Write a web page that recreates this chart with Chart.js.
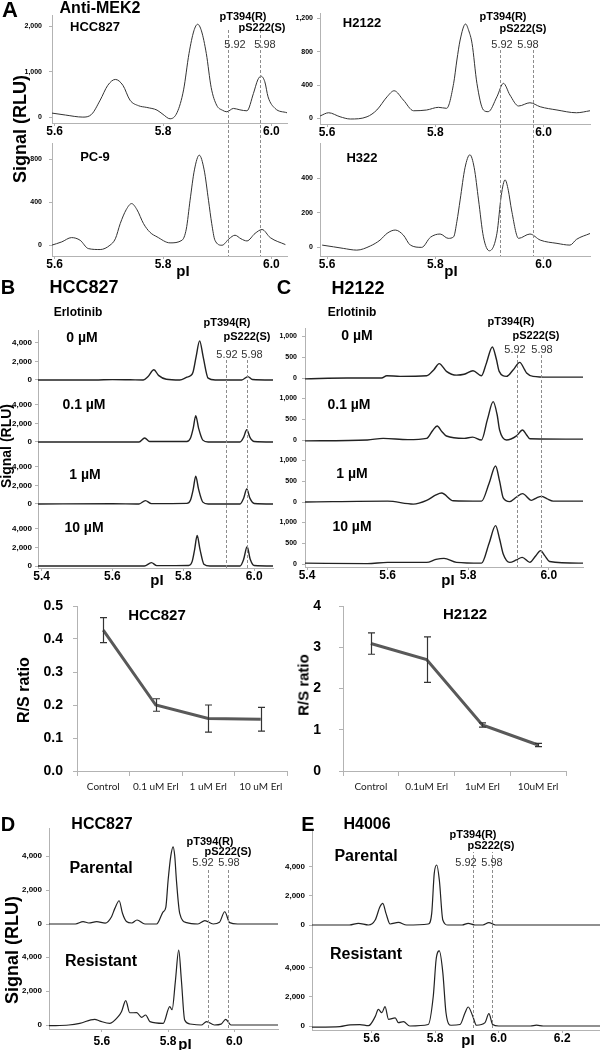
<!DOCTYPE html>
<html>
<head>
<meta charset="utf-8">
<script src="https://cdn.jsdelivr.net/npm/chart.js@4.4.1/dist/chart.umd.min.js"></script>
<style>
  html, body { margin: 0; padding: 0; background: #fff; }
  #fig { position: relative; width: 600px; height: 1050px; overflow: hidden; background: #fff;
         font-family: 'Liberation Sans', Arial, sans-serif; }
  #fig canvas { position: absolute; }
  .t { position: absolute; transform: translate(-50%, -50%); white-space: nowrap; line-height: 1; color: #000; }
</style>
</head>
<body>
<div id="fig"></div>
<script>
// ---- data: [pI, signal (RLU)] ----
const aHcc827 = [[5.595,88],[5.62,45],[5.652,0],[5.668,60],[5.684,374],[5.698,700],[5.712,830],[5.726,700],[5.739,374],[5.755,250],[5.770,213],[5.789,154],[5.800,60],[5.813,-37],[5.826,100],[5.838,600],[5.848,1400],[5.857,1900],[5.864,2046],[5.871,1900],[5.880,1400],[5.889,650],[5.899,264],[5.910,150],[5.918,117],[5.930,191],[5.942,160],[5.955,139],[5.967,521],[5.975,820],[5.981,902],[5.988,780],[5.994,447],[6.007,191],[6.029,95]];
const aPc9 = [[5.594,0],[5.613,31],[5.631,71],[5.647,46],[5.662,-31],[5.684,-40],[5.702,0],[5.712,60],[5.721,201],[5.732,330],[5.742,387],[5.752,330],[5.764,201],[5.776,120],[5.789,78],[5.813,22],[5.835,46],[5.843,150],[5.850,418],[5.858,700],[5.867,837],[5.876,700],[5.884,418],[5.890,200],[5.896,46],[5.909,0],[5.922,60],[5.933,93],[5.944,60],[5.955,40],[5.970,110],[5.983,146],[5.998,71],[6.026,6]];
const aH2122 = [[5.587,28],[5.603,67],[5.624,19],[5.643,-8],[5.674,19],[5.692,100],[5.711,259],[5.724,331],[5.741,220],[5.760,91],[5.784,100],[5.806,132],[5.821,120],[5.834,420],[5.840,700],[5.846,940],[5.856,1132],[5.862,1050],[5.868,900],[5.877,420],[5.889,100],[5.898,80],[5.914,259],[5.926,420],[5.938,280],[5.954,148],[5.975,187],[5.994,139],[6.025,100],[6.061,67],[6.086,91]];
const aH322 = [[5.591,13],[5.612,3],[5.630,-6],[5.655,-16],[5.680,8],[5.698,42],[5.711,81],[5.726,100],[5.741,71],[5.754,13],[5.775,0],[5.791,58],[5.809,77],[5.824,52],[5.834,61],[5.840,150],[5.846,274],[5.855,460],[5.864,535],[5.872,460],[5.880,274],[5.889,61],[5.900,-20],[5.914,81],[5.922,300],[5.929,390],[5.935,330],[5.941,216],[5.954,52],[5.975,77],[5.994,42],[6.025,23],[6.049,13],[6.061,46],[6.086,80]];

const b0uM = [[5.390,0],[5.55,0],[5.60,40],[5.65,20],[5.687,0],[5.700,350],[5.717,1100],[5.730,500],[5.752,80],[5.790,0],[5.810,300],[5.820,450],[5.827,800],[5.836,2500],[5.846,4225],[5.856,2500],[5.870,200],[5.890,0],[5.965,0],[5.982,360],[5.995,50],[6.053,0]];
const b01uM = [[5.390,0],[5.675,0],[5.691,430],[5.705,50],[5.810,50],[5.820,400],[5.828,1500],[5.835,2850],[5.843,1500],[5.855,200],[5.870,0],[5.960,0],[5.970,500],[5.979,1320],[5.988,500],[6.000,50],[6.053,0]];
const b1uM = [[5.390,0],[5.60,30],[5.675,0],[5.693,360],[5.710,40],[5.810,60],[5.820,400],[5.828,1600],[5.835,3010],[5.843,1600],[5.855,200],[5.870,0],[5.960,0],[5.970,600],[5.979,1610],[5.988,600],[6.000,50],[6.053,0]];
const b10uM = [[5.390,0],[5.690,0],[5.710,360],[5.725,40],[5.815,60],[5.825,500],[5.832,1800],[5.839,3300],[5.847,1800],[5.858,200],[5.875,0],[5.960,0],[5.970,700],[5.980,2080],[5.989,700],[6.000,50],[6.053,0]];

const c0uM = [[5.395,-20],[5.50,0],[5.585,0],[5.598,55],[5.631,40],[5.697,55],[5.715,200],[5.728,345],[5.746,160],[5.771,70],[5.790,90],[5.812,175],[5.833,55],[5.845,350],[5.860,745],[5.870,450],[5.877,160],[5.895,40],[5.912,200],[5.928,375],[5.940,200],[5.945,120],[5.961,40],[6.000,20],[6.085,20]];
const c01uM = [[5.395,-20],[5.55,0],[5.589,40],[5.65,10],[5.697,40],[5.712,230],[5.723,335],[5.735,200],[5.746,96],[5.790,40],[5.811,70],[5.833,0],[5.848,500],[5.862,920],[5.872,600],[5.878,240],[5.895,0],[5.920,100],[5.935,240],[5.945,120],[5.953,30],[6.085,20]];
const c1uM = [[5.395,0],[5.60,20],[5.664,-50],[5.697,40],[5.720,170],[5.734,215],[5.763,30],[5.833,20],[5.852,450],[5.868,865],[5.878,500],[5.887,100],[5.903,10],[5.920,120],[5.935,200],[5.957,40],[5.970,100],[5.982,135],[5.995,80],[6.011,20],[6.085,20]];
const c10uM = [[5.395,20],[5.55,10],[5.600,40],[5.697,40],[5.720,110],[5.740,135],[5.771,40],[5.833,20],[5.852,500],[5.868,920],[5.878,600],[5.887,240],[5.903,40],[5.920,100],[5.934,160],[5.953,40],[5.968,200],[5.980,320],[5.990,200],[6.002,60],[6.085,20]];

const dParental = [[5.440,0],[5.52,0],[5.543,140],[5.560,60],[5.584,140],[5.610,50],[5.629,430],[5.639,920],[5.652,1370],[5.662,630],[5.674,150],[5.690,60],[5.706,235],[5.730,0],[5.765,0],[5.785,720],[5.793,980],[5.800,2590],[5.808,4000],[5.815,4545],[5.820,4000],[5.825,2590],[5.835,630],[5.856,80],[5.890,0],[5.911,200],[5.936,0],[5.955,100],[5.971,720],[5.986,80],[6.010,0],[6.132,0]];
const dResistant = [[5.440,-40],[5.50,0],[5.533,100],[5.578,335],[5.594,230],[5.624,100],[5.649,490],[5.659,780],[5.672,1430],[5.684,720],[5.705,725],[5.720,450],[5.732,590],[5.745,200],[5.785,100],[5.805,1080],[5.812,900],[5.822,2600],[5.832,4410],[5.840,2650],[5.850,290],[5.866,60],[5.900,0],[5.916,200],[5.940,0],[5.960,50],[5.974,335],[5.990,0],[6.132,0]];

const eParental = [[5.412,0],[5.530,0],[5.558,115],[5.590,0],[5.611,340],[5.626,1250],[5.635,1485],[5.645,800],[5.658,70],[5.684,180],[5.710,0],[5.778,70],[5.789,800],[5.797,3540],[5.805,4110],[5.813,3080],[5.824,340],[5.840,0],[5.885,0],[5.904,115],[5.925,0],[5.950,0],[5.969,160],[5.990,0],[6.319,0]];
const eResistant = [[5.412,-80],[5.500,-40],[5.532,80],[5.563,100],[5.590,20],[5.611,640],[5.621,1140],[5.632,910],[5.642,1330],[5.653,460],[5.674,550],[5.684,230],[5.700,300],[5.720,0],[5.778,100],[5.794,2055],[5.803,4570],[5.813,5140],[5.824,3660],[5.834,910],[5.850,50],[5.878,100],[5.894,910],[5.904,1300],[5.918,690],[5.930,50],[5.957,230],[5.969,850],[5.981,100],[6.000,0],[6.100,0],[6.119,60],[6.140,0],[6.319,0]];

// R/S ratio panels
const ratioLabelsHcc = ['Control', '0.1 uM Erl', '1 uM Erl', '10 uM Erl'];
const ratioHcc = [0.427, 0.200, 0.159, 0.157];
const ratioErrHcc = [0.038, 0.019, 0.041, 0.036];
const ratioLabelsH2122 = ['Control', '0.1uM Erl', '1uM Erl', '10uM Erl'];
const ratioH2122 = [3.09, 2.70, 1.115, 0.63];
const ratioErrH2122 = [0.26, 0.55, 0.05, 0.04];

// tick values
const markerPI = [5.92, 5.98];
const pITicksA = [5.6, 5.8, 6.0];
const pITicksBC = [5.4, 5.6, 5.8, 6.0];
const pITicksE = [5.6, 5.8, 6.0, 6.2];
const yTicksHcc827A = [0, 1000, 2000];
const yTicksPc9 = [0, 400, 800];
const yTicksH2122A = [0, 400, 800, 1200];
const yTicksH322 = [0, 200, 400];
const yTicks4k = [0, 2000, 4000];
const yTicks1k = [0, 500, 1000];
const ratioTicksHcc = [0, 0.1, 0.2, 0.3, 0.4, 0.5];
const ratioTicksH2122 = [0, 1, 2, 3, 4];

const AXIS = '#b3b3b3';
const FONT = "'Liberation Sans', Arial, sans-serif";
const fig = document.getElementById('fig');

function addCanvas(left, top, w, h) {
  const cv = document.createElement('canvas');
  cv.width = w; cv.height = h;
  cv.style.left = left + 'px'; cv.style.top = top + 'px';
  cv.style.width = w + 'px'; cv.style.height = h + 'px';
  fig.appendChild(cv);
  return cv;
}

// dashed pI markers, y0/y1 in page coordinates
function dashed(xs, top, y0, y1) {
  return {
    id: 'dashed',
    afterDatasetsDraw(chart) {
      const ctx = chart.ctx;
      const sx = chart.scales.x;
      ctx.save();
      ctx.strokeStyle = '#8c8c8c';
      ctx.lineWidth = 1;
      ctx.setLineDash([3, 2]);
      ctx.lineDashOffset = y0 % 5;
      xs.forEach(v => {
        const px = Math.round(sx.getPixelForValue(v)) + 0.5;
        ctx.beginPath();
        ctx.moveTo(px, y0 - top);
        ctx.lineTo(px, y1 - top);
        ctx.stroke();
      });
      ctx.restore();
    }
  };
}

function trace(o) {
  const padT = 10, padR = 6, xh = o.xt ? o.xh : 0;
  const left = o.x - o.yw, top = o.y - padT;
  const cv = addCanvas(left, top, o.w + o.yw + padR, o.h + padT + xh);
  const plugins = [];
  if (o.marks) {
    const a = Math.max(o.marks[0], o.y), b = Math.min(o.marks[1], o.y + o.h + xh);
    if (a < b) plugins.push(dashed(markerPI, top, a, b));
  }
  new Chart(cv, {
    type: 'line',
    data: {
      datasets: [{
        data: o.data.map(([x, y]) => ({ x, y })),
        borderColor: o.color || '#222',
        borderWidth: o.lw || 1,
        pointRadius: 0,
        cubicInterpolationMode: 'monotone',
        fill: false
      }]
    },
    options: {
      responsive: false,
      animation: false,
      events: [],
      layout: { padding: { top: padT, right: padR, left: 0, bottom: 0 } },
      plugins: { legend: { display: false }, tooltip: { enabled: false } },
      scales: {
        x: {
          type: 'linear', min: o.xmin, max: o.xmax,
          display: !!o.xt,
          afterBuildTicks: s => { if (o.xt) s.ticks = o.xt.map(v => ({ value: v })); },
          afterFit: s => { s.height = xh; s.paddingLeft = 0; s.paddingRight = 0; },
          grid: { drawOnChartArea: false, tickLength: 3, color: AXIS },
          border: { color: AXIS },
          ticks: {
            color: '#000', padding: o.xpad || 0, maxRotation: 0, autoSkip: false,
            font: { family: FONT, size: 12, weight: 'bold', lineHeight: 1 },
            callback: v => Number(v).toFixed(1)
          }
        },
        y: {
          min: o.ymin, max: o.ymax,
          afterBuildTicks: s => { s.ticks = o.yt.map(v => ({ value: v })); },
          afterFit: s => { s.width = o.yw; s.paddingTop = 0; s.paddingBottom = 0; },
          grid: { drawOnChartArea: false, tickLength: 3, color: AXIS },
          border: { color: AXIS },
          ticks: {
            color: '#000', padding: o.ypad, autoSkip: false,
            font: { family: FONT, size: o.fs, weight: 'bold', lineHeight: 1 },
            callback: v => Number(v).toLocaleString('en-US')
          }
        }
      }
    },
    plugins
  });
}

function errorBars(errs) {
  return {
    id: 'errorBars',
    afterDatasetsDraw(chart) {
      const ctx = chart.ctx, ys = chart.scales.y;
      const vals = chart.data.datasets[0].data;
      ctx.save();
      ctx.strokeStyle = '#333';
      ctx.lineWidth = 1.2;
      chart.getDatasetMeta(0).data.forEach((pt, i) => {
        const x = Math.round(pt.x) + 0.5;
        const t = ys.getPixelForValue(vals[i] + errs[i]);
        const b = ys.getPixelForValue(vals[i] - errs[i]);
        ctx.beginPath();
        ctx.moveTo(x, t); ctx.lineTo(x, b);
        ctx.moveTo(x - 3.5, t); ctx.lineTo(x + 3.5, t);
        ctx.moveTo(x - 3.5, b); ctx.lineTo(x + 3.5, b);
        ctx.stroke();
      });
      ctx.restore();
    }
  };
}

function ratio(o) {
  const padT = 10, padR = 14, xh = 26;
  const cv = addCanvas(o.x - o.yw, o.y - padT, o.w + o.yw + padR, o.h + padT + xh);
  new Chart(cv, {
    type: 'line',
    data: {
      labels: o.labels,
      datasets: [{ data: o.values, borderColor: '#595959', borderWidth: 3, pointRadius: 0, tension: 0 }]
    },
    options: {
      responsive: false,
      animation: false,
      events: [],
      layout: { padding: { top: padT, right: padR, left: 0, bottom: 0 } },
      plugins: { legend: { display: false }, tooltip: { enabled: false } },
      scales: {
        x: {
          type: 'category', offset: true,
          afterFit: s => { s.height = xh; s.paddingLeft = 0; s.paddingRight = 0; },
          grid: { offset: true, drawOnChartArea: false, tickLength: 5, color: AXIS },
          border: { color: AXIS },
          ticks: { color: '#222', padding: 6, maxRotation: 0, autoSkip: false,
                   font: { family: 'Lato, Carlito, sans-serif', size: 10, lineHeight: 1 } }
        },
        y: {
          min: 0, max: o.ymax,
          afterBuildTicks: s => { s.ticks = o.yt.map(v => ({ value: v })); },
          afterFit: s => { s.width = o.yw; s.paddingTop = 0; s.paddingBottom = 0; },
          grid: { drawOnChartArea: false, tickLength: 4, color: AXIS },
          border: { color: AXIS },
          ticks: { color: '#000', padding: o.ypad, autoSkip: false,
                   font: { family: FONT, size: 14, weight: 'bold', lineHeight: 1 },
                   callback: v => o.dec ? Number(v).toFixed(1) : String(v) }
        }
      }
    },
    plugins: [errorBars(o.errs)]
  });
}

// ---- panel A ----
const aLeft = { x: 52, w: 235, yw: 52, xmin: 5.595, xmax: 6.029, ypad: 7, fs: 7, color: '#333', marks: [28, 256] };
const aRight = { x: 320, w: 270, yw: 52, xmin: 5.587, xmax: 6.086, ypad: 4, fs: 7, color: '#333', marks: [49, 256] };
trace({ ...aLeft, y: 15, h: 108, ymin: -130, ymax: 2250, yt: yTicksHcc827A, xt: pITicksA, xh: 20, data: aHcc827 });
trace({ ...aLeft, y: 143, h: 113, ymin: -100, ymax: 950, yt: yTicksPc9, xt: pITicksA, xh: 20, data: aPc9 });
trace({ ...aRight, y: 13, h: 111, ymin: -68, ymax: 1264, yt: yTicksH2122A, xt: pITicksA, xh: 20, data: aH2122 });
trace({ ...aRight, y: 143, h: 113, ymin: -50, ymax: 603, yt: yTicksH322, xt: pITicksA, xh: 20, data: aH322 });

// ---- panels B and C ----
const bBase = { x: 38, w: 235, yw: 38, xmin: 5.390, xmax: 6.053, ypad: 3, fs: 8, lw: 1.4, yt: yTicks4k, marks: [358, 568] };
trace({ ...bBase, y: 330, h: 62, ymin: -1300, ymax: 5400, data: b0uM });
trace({ ...bBase, y: 392, h: 62, ymin: -1300, ymax: 5400, data: b01uM });
trace({ ...bBase, y: 454, h: 62, ymin: -1300, ymax: 5400, data: b1uM });
trace({ ...bBase, y: 516, h: 52, ymin: -216, ymax: 5400, data: b10uM, xt: pITicksBC, xh: 20 });

const cBase = { x: 305, w: 278, yw: 36, xmin: 5.395, xmax: 6.085, ypad: 5, fs: 7, lw: 1.4, yt: yTicks1k, marks: [355, 567] };
trace({ ...cBase, y: 328, h: 62, ymin: -288, ymax: 1200, data: c0uM });
trace({ ...cBase, y: 390, h: 62, ymin: -288, ymax: 1200, data: c01uM });
trace({ ...cBase, y: 452, h: 62, ymin: -288, ymax: 1200, data: c1uM });
trace({ ...cBase, y: 514, h: 53, ymin: -72, ymax: 1200, data: c10uM, xt: pITicksBC, xh: 20 });

// ---- R/S ratio ----
ratio({ x: 77, y: 606, w: 210, h: 165, yw: 77, ymax: 0.5, yt: ratioTicksHcc, dec: true, ypad: 10,
        labels: ratioLabelsHcc, values: ratioHcc, errs: ratioErrHcc });
ratio({ x: 343, y: 606, w: 223, h: 165, yw: 45, ymax: 4, yt: ratioTicksH2122, dec: false, ypad: 18,
        labels: ratioLabelsH2122, values: ratioH2122, errs: ratioErrH2122 });

// ---- panels D and E ----
const dBase = { x: 49, w: 229, yw: 49, xmin: 5.440, xmax: 6.132, ypad: 4, fs: 8, lw: 1.2, yt: yTicks4k, marks: [868, 1029] };
trace({ ...dBase, y: 828, h: 101, ymin: -294, ymax: 5650, data: dParental });
trace({ ...dBase, y: 929, h: 100, ymin: -235, ymax: 5650, data: dResistant, xt: pITicksA, xh: 22, xpad: 4 });

const eBase = { x: 312, w: 288, yw: 40, xmin: 5.412, xmax: 6.319, ypad: 4, fs: 8, lw: 1.2, yt: yTicks4k, marks: [852, 1030] };
trace({ ...eBase, y: 829, h: 101, ymin: -342, ymax: 6576, data: eParental });
trace({ ...eBase, y: 930, h: 100, ymin: -274, ymax: 6576, data: eResistant, xt: pITicksE, xh: 20 });

// ---- text ----
const texts = [
  ['A', 10, 10, 22, 700], ['Anti-MEK2', 100, 8, 16, 700], ['HCC827', 95, 26, 13, 700],
  ['pT394(R)', 243, 16, 11, 700], ['pS222(S)', 262, 27, 11, 700], ['5.92', 235, 44, 11, 400], ['5.98', 265, 44, 11, 400],
  ['H2122', 362, 22, 13, 700],
  ['pT394(R)', 503, 16, 11, 700], ['pS222(S)', 523, 28, 11, 700], ['5.92', 502, 44, 11, 400], ['5.98', 528, 44, 11, 400],
  ['PC-9', 95, 156, 13, 700], ['H322', 362, 157, 13, 700],
  ['pI', 183, 270, 15, 700], ['pI', 451, 270, 15, 700],
  ['B', 8, 287, 20, 700], ['HCC827', 84, 287, 18, 700], ['C', 284, 287, 20, 700], ['H2122', 358, 288, 18, 700],
  ['Erlotinib', 78, 312, 12, 700], ['Erlotinib', 352, 312, 12, 700],
  ['0 µM', 82, 337, 14, 700], ['0.1 µM', 84, 404, 14, 700], ['1 µM', 85, 474, 14, 700], ['10 µM', 84, 527, 14, 700],
  ['0 µM', 357, 335, 14, 700], ['0.1 µM', 349, 404, 14, 700], ['1 µM', 352, 473, 14, 700], ['10 µM', 352, 526, 14, 700],
  ['pT394(R)', 227, 322, 11, 700], ['pS222(S)', 247, 336, 11, 700], ['5.92', 227, 354, 11, 400], ['5.98', 252, 354, 11, 400],
  ['pT394(R)', 511, 321, 11, 700], ['pS222(S)', 536, 335, 11, 700], ['5.92', 515, 349, 11, 400], ['5.98', 542, 349, 11, 400],
  ['pI', 157, 579, 15, 700], ['pI', 448, 579, 15, 700],
  ['HCC827', 157, 614, 15, 700], ['H2122', 465, 613, 15, 700],
  ['D', 8, 824, 20, 700], ['HCC827', 102, 824, 16, 700], ['E', 308, 824, 20, 700], ['H4006', 367, 824, 16, 700],
  ['Parental', 101, 868, 16, 700], ['Resistant', 101, 961, 16, 700],
  ['Parental', 366, 856, 16, 700], ['Resistant', 366, 954, 16, 700],
  ['pT394(R)', 210, 841, 11, 700], ['pS222(S)', 228, 851, 11, 700], ['5.92', 203, 862, 11, 400], ['5.98', 229, 862, 11, 400],
  ['pT394(R)', 473, 834, 11, 700], ['pS222(S)', 491, 845, 11, 700], ['5.92', 466, 862, 11, 400], ['5.98', 492, 862, 11, 400],
  ['pI', 185, 1043, 15, 700], ['pI', 468, 1039, 15, 700]
];
texts.forEach(([s, x, y, size, w]) => {
  const d = document.createElement('div');
  d.className = 't';
  d.textContent = s;
  d.style.left = x + 'px'; d.style.top = y + 'px';
  d.style.fontSize = size + 'px'; d.style.fontWeight = w;
  if (w === 400) d.style.color = '#333';
  fig.appendChild(d);
});

// rotated axis titles
[['Signal (RLU)', 20, 129, 18], ['Signal (RLU)', 6, 446, 14], ['Signal (RLU)', 12, 950, 18],
 ['R/S ratio', 24, 690, 16], ['R/S ratio', 303, 685, 15]].forEach(([s, x, y, size]) => {
  const d = document.createElement('div');
  d.className = 't';
  d.textContent = s;
  d.style.left = x + 'px'; d.style.top = y + 'px';
  d.style.fontSize = size + 'px'; d.style.fontWeight = 700;
  d.style.transform = 'translate(-50%, -50%) rotate(-90deg)';
  fig.appendChild(d);
});
</script>
</body>
</html>
